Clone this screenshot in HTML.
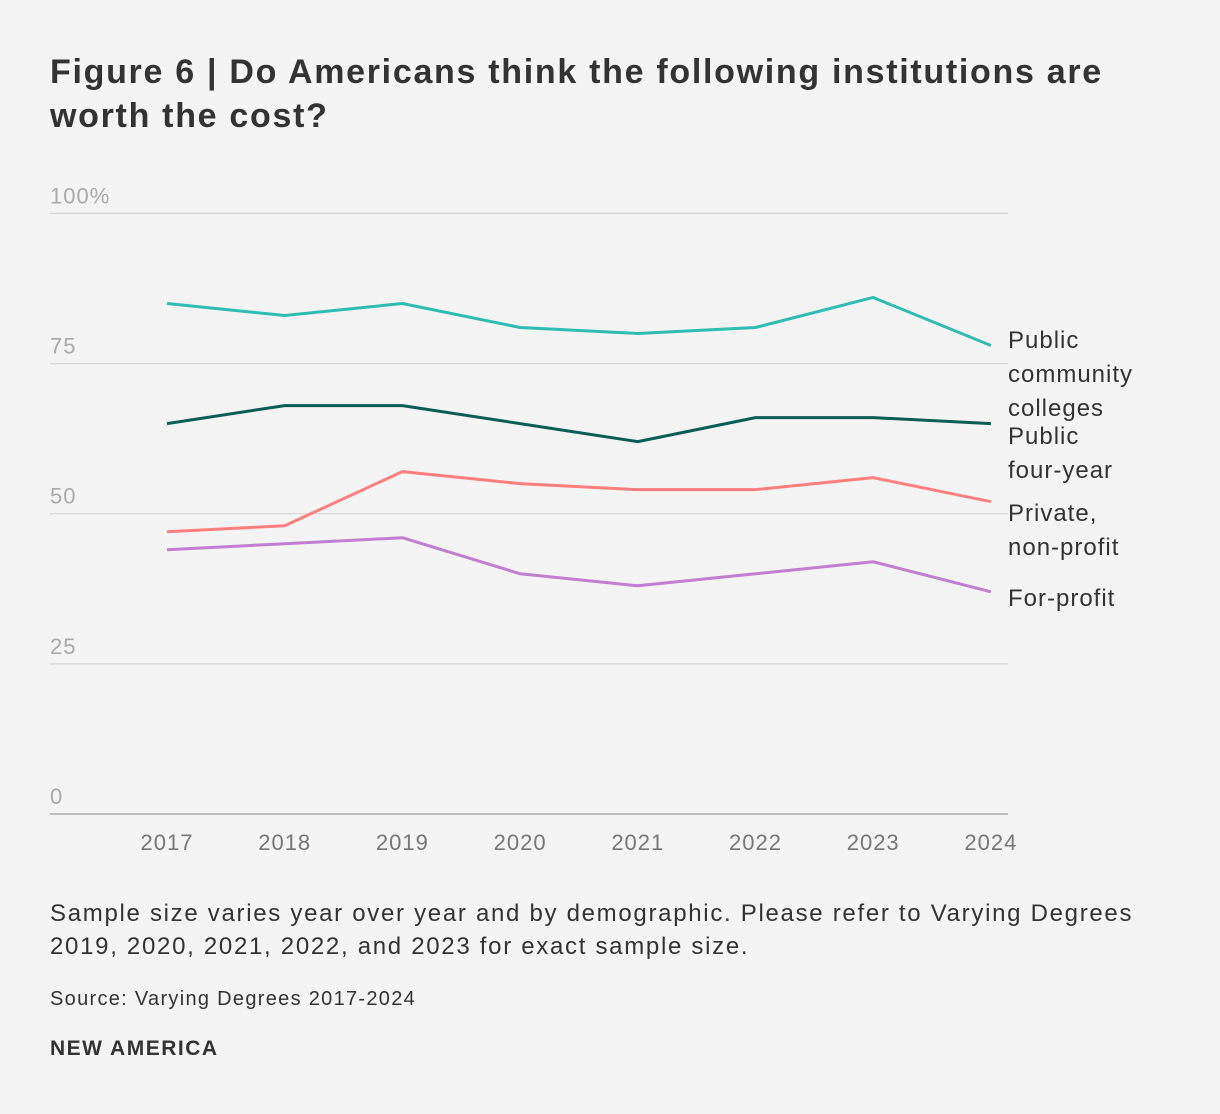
<!DOCTYPE html>
<html><head><meta charset="utf-8"><style>
body{margin:0;background:#f4f4f4;width:1220px;height:1114px;overflow:hidden;font-family:"Liberation Sans",sans-serif;}
h1{position:absolute;left:50px;top:50px;margin:0;font-size:34px;line-height:44px;font-weight:bold;color:#333;width:1110px;letter-spacing:1.7px;}
.note{position:absolute;left:50px;top:897px;font-size:24px;line-height:33px;color:#333;letter-spacing:1.7px;width:1150px;}
.src{position:absolute;left:50px;top:988px;font-size:20px;color:#333;letter-spacing:1.3px;}
.brand{position:absolute;left:50px;top:1037px;font-size:21px;font-weight:bold;color:#333;letter-spacing:1.5px;}
</style></head><body>
<h1>Figure 6 | Do Americans think the following institutions are worth the cost?</h1>
<svg id="chart" width="1220" height="880" style="position:absolute;left:0;top:0"></svg>
<div class="note">Sample size varies year over year and by demographic. Please refer to Varying Degrees<br>2019, 2020, 2021, 2022, and 2023 for exact sample size.</div>
<div class="src">Source: Varying Degrees 2017-2024</div>
<div class="brand">NEW AMERICA</div>
<script>
const years=["2017","2018","2019","2020","2021","2022","2023","2024"];
const yTicks=[0,25,50,75,100];
const yTickLabels=["0","25","50","75","100%"];
const community=[85,83,85,81,80,81,86,78];
const fourYear=[65,68,68,65,62,66,66,65];
const privateNP=[47,48,57,55,54,54,56,52];
const forProfit=[44,45,46,40,38,40,42,37];
const seriesNames=["community-colleges","four-year","private-non-profit","for-profit"];
const svg=document.getElementById('chart');
const NS='http://www.w3.org/2000/svg';
const x=i=>167+i*117.7;
const y=v=>814-v*6.006;
function mk(t,a){const e=document.createElementNS(NS,t);for(const k in a)e.setAttribute(k,a[k]);svg.appendChild(e);return e;}
yTicks.forEach((v,i)=>{
 const l=mk('line',{x1:50,x2:1008,y1:y(v),y2:y(v),stroke:v===0?'#aaa':'#d6d6d6','stroke-width':v===0?1.5:1.2});
 
 
 const t=mk('text',{x:50,y:y(v)-10,'font-size':22,fill:'#aaa','font-family':'Liberation Sans','letter-spacing':1});
 t.textContent=yTickLabels[i];
 
 
});
years.forEach((yr,i)=>{
 const t=mk('text',{x:x(i),y:850,'font-size':22,fill:'#777','text-anchor':'middle','font-family':'Liberation Sans','letter-spacing':1});
 t.textContent=yr;
 
 
});
const all=[community,fourYear,privateNP,forProfit];
const colors=['#2ebdb0','#0b5e55','#ff7e7e','#c07fd0'];
const labels=[["Public","community","colleges"],["Public","four-year"],["Private,","non-profit"],["For-profit"]];
const labelY=[348,444,521,606];
all.forEach((d,s)=>{
 const p=mk('polyline',{points:d.map((v,i)=>x(i)+','+y(v)).join(' '),fill:'none',stroke:colors[s],'stroke-width':3,'stroke-linejoin':'round'});
 
 
 const t=mk('text',{x:1008,y:labelY[s],'font-size':24,fill:'#333','font-family':'Liberation Sans','letter-spacing':1});
 labels[s].forEach((ln,k)=>{const ts=document.createElementNS(NS,'tspan');ts.setAttribute('x',1008);ts.setAttribute('dy',k?34:0);ts.textContent=ln;t.appendChild(ts);});
 
 
});
</script>
</body></html>
